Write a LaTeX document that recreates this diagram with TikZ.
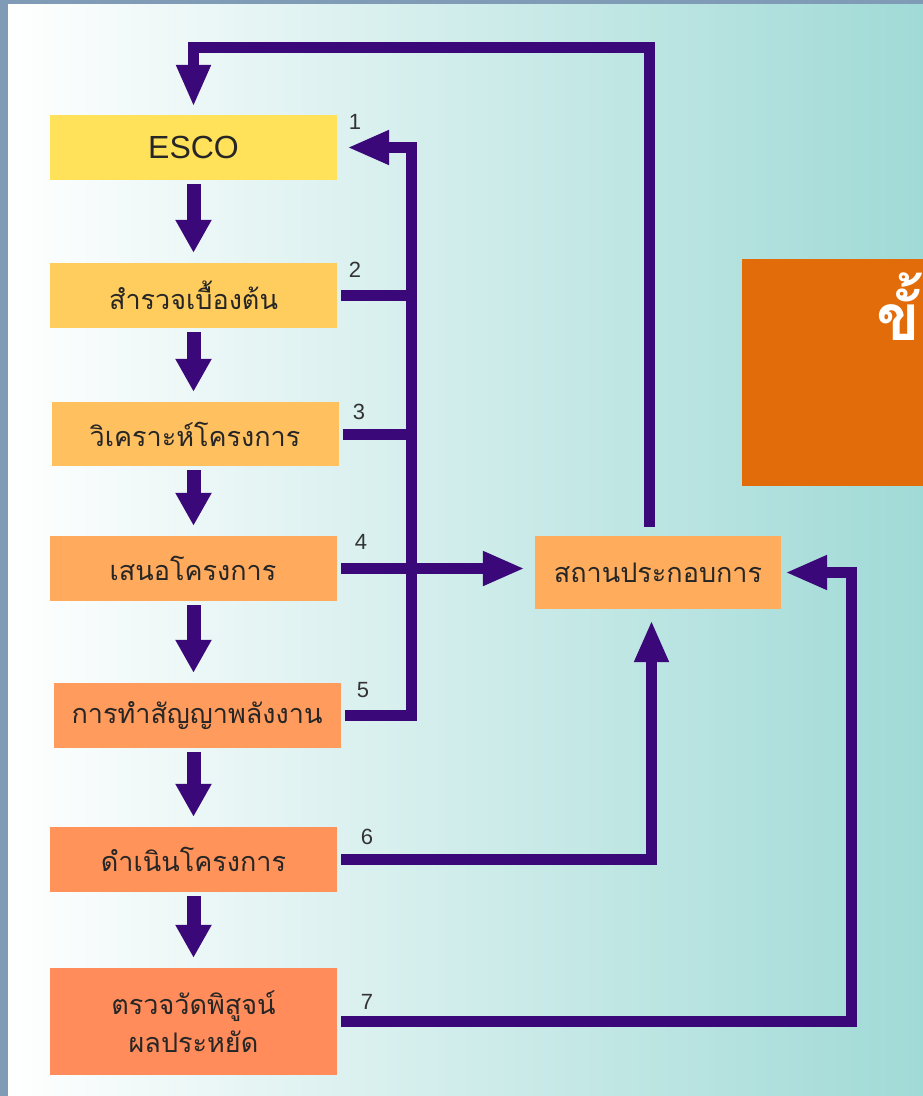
\documentclass[tikz,border=0pt]{standalone}
\usepackage{fontspec}
\setmainfont{Liberation Sans}
\newfontfamily\thaifont[Script=Thai]{Loma}
\usetikzlibrary{arrows.meta}
\definecolor{flowline}{RGB}{58,8,120}
\definecolor{lagoon}{RGB}{160,218,214}
\definecolor{edge}{RGB}{127,155,181}
\definecolor{banner}{RGB}{227,108,10}
\definecolor{escofill}{RGB}{255,225,90}
\definecolor{surveyfill}{RGB}{255,204,94}
\definecolor{analyzefill}{RGB}{255,192,96}
\definecolor{proposefill}{RGB}{255,170,92}
\definecolor{contractfill}{RGB}{255,155,92}
\definecolor{implementfill}{RGB}{255,147,90}
\definecolor{verifyfill}{RGB}{255,140,90}
\definecolor{sitefill}{RGB}{255,173,92}
\tikzset{
	stage/.style={minimum width=287pt, minimum height=65pt, inner sep=0pt, text=black!85, font=\thaifont\fontsize{27}{38}\selectfont},
	link/.style={flowline, line width=11pt, shorten <=4pt},
	linkto/.style={link, -{Triangle[length=42pt,width=32pt]}},
	down/.style={flowline, line width=14pt, shorten <=4pt, shorten >=10pt, -{Triangle[length=33pt,width=34pt]}},
	num/.style={text=black!80, font=\fontsize{22}{24}\selectfont}
}
\begin{document}
\begin{tikzpicture}[x=1pt, y=-1pt]
	\useasboundingbox (0,0) rectangle (923,1096);
	\clip (0,0) rectangle (923,1096);
	\fill[edge] (0,0) rectangle (923,1096);
	\shade[left color=white, right color=lagoon] (8,4) rectangle (923,1096);
	\fill[banner] (742,259) rectangle (923,486);
	\node[anchor=base west, inner sep=0pt, text=white, font=\thaifont\bfseries\fontsize{64}{70}\selectfont] (title) at (876,340) {ขั้นตอน};
	\node[stage, fill=escofill, font=\fontsize{32}{36}\selectfont] (esco) at (193.5,147.5) {ESCO};
	\node[stage, fill=surveyfill] (survey) at (193.5,295.5) {สำรวจเบื้องต้น};
	\node[stage, fill=analyzefill, minimum height=64pt] (analyze) at (195,434) {วิเคราะห์โครงการ};
	\node[stage, fill=proposefill] (propose) at (193,568.5) {เสนอโครงการ};
	\node[stage, fill=contractfill] (contract) at (197,715.5) {การทำสัญญาพลังงาน};
	\node[stage, fill=implementfill] (implement) at (193.5,859.5) {ดำเนินโครงการ};
	\node[stage, fill=verifyfill, minimum height=107pt, align=center] (verify) at (193.5,1021.5) {ตรวจวัดพิสูจน์\\ผลประหยัด};
	\node[stage, fill=sitefill, minimum width=246pt, minimum height=73pt] (site) at (658,572.5) {สถานประกอบการ};
	\foreach \a/\b in {esco/survey, survey/analyze, analyze/propose, propose/contract, contract/implement, implement/verify}
		\draw[down] (\a.south -| esco.south) -- (\b.north -| esco.south);
	\coordinate (bustop) at (411,147.5);
	\coordinate (topturn) at (649,47);
	\coordinate (rightbus) at (851,572.5);
	\draw[linkto, shorten >=10pt] (contract.east) -| (bustop) -- (esco.east);
	\draw[link] (survey.east) -- (survey.east -| bustop);
	\draw[link] (analyze.east) -- (analyze.east -| bustop);
	\draw[linkto, shorten >=10pt] (propose.east) -- (propose.east -| site.west);
	\draw[linkto, shorten <=9pt, shorten >=8pt] (site.north -| topturn) -- (topturn) -| (esco.north);
	\draw[linkto, shorten >=11pt] (implement.east) -| ([xshift=-6.5pt]site.south);
	\draw[linkto, shorten >=4pt] (verify.east) -| (rightbus) -- (site.east);
	\foreach \n/\x/\y in {1/355/122, 2/355/270, 3/359/412, 4/361/542, 5/363/690, 6/367/837, 7/367/1002}
		\node[num] (n\n) at (\x,\y) {\n};
\end{tikzpicture}
\end{document}
